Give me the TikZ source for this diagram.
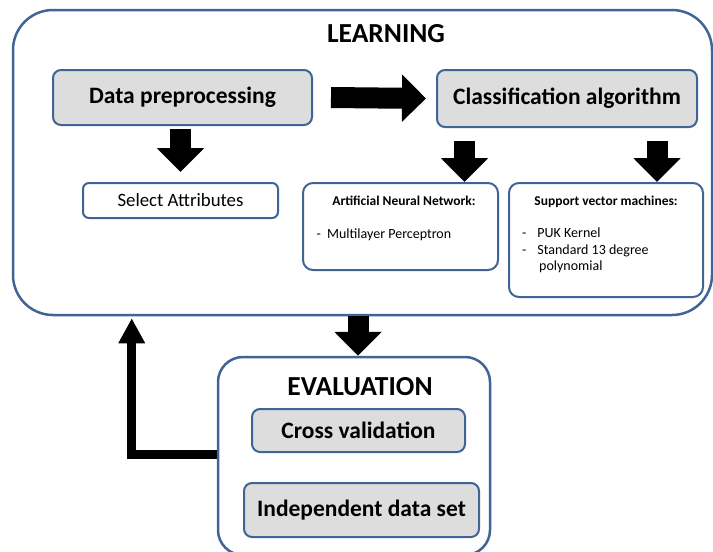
\documentclass[tikz,border=0pt]{standalone}
\usepackage{fontspec}
\setmainfont{Carlito}
\usetikzlibrary{arrows.meta,positioning}
\definecolor{frameblue}{RGB}{65,100,150}
\definecolor{boxgray}{RGB}{221,221,221}
\begin{document}
\begin{tikzpicture}[x=1pt,y=-1pt,
  bigbox/.style={draw=frameblue,line width=2.5pt,rounded corners=40pt,fill=white},
  graybox/.style={draw=frameblue,line width=2pt,rounded corners=8pt,fill=boxgray,font=\fontsize{23.5}{26}\selectfont\bfseries},
  whitebox/.style={draw=frameblue,line width=2pt,rounded corners=10pt,fill=white},
  blockarrow/.style={line width=21pt,-{Triangle[length=24pt,width=46pt]}},
  backarrow/.style={line width=9pt,-{Triangle[length=25pt,width=25pt]}}]
\clip (0,0) rectangle (713,552);
% learning part
\node[bigbox,minimum width=699pt,minimum height=305pt] (learn) at (362.5,162.5) {};
\node[font=\fontsize{27.5}{30}\selectfont\bfseries] (learntitle) at (386,34) {LEARNING};
\node[graybox,minimum width=259pt,minimum height=55pt] (pre) at (182.5,97.5) {Data preprocessing};
\node[graybox,minimum width=260pt,minimum height=57pt] (cls) at (567,98.5) {Classification algorithm};
\node[whitebox,rounded corners=6pt,minimum width=195pt,minimum height=35pt,
  font=\fontsize{18.8}{20}\selectfont] (sel) at (180.5,200.5) {Select Attributes};
\node[whitebox,minimum width=195pt,minimum height=87pt] (ann) at (400.5,226.5) {};
\node[whitebox,minimum width=194pt,minimum height=114pt] (svm) at (606,240) {};
\node[font=\fontsize{13.5}{15}\selectfont\bfseries] (anntitle) at (404,201) {Artificial Neural Network:};
\node[font=\fontsize{14}{16}\selectfont,anchor=west] (annlist) at (313,235) {-\ \ Multilayer Perceptron};
\node[font=\fontsize{13.5}{15}\selectfont\bfseries] (svmtitle) at (606,202) {Support vector machines:};
\node[font=\fontsize{14}{16.5}\selectfont,anchor=north west,align=left,inner sep=0pt] (svmlist) at (522,228)
  {-\hspace{11pt}PUK Kernel\\-\hspace{11pt}Standard 13 degree\\\hspace{17pt}polynomial};
\draw[blockarrow] ([xshift=18pt]pre.east) -- ([xshift=-10pt]cls.west);
\draw[blockarrow] ([yshift=-3pt]pre.south -| sel.north) -- ([yshift=10pt]sel.north);
\draw[blockarrow] ([xshift=64pt,yshift=41pt]ann.north) -- ([xshift=64pt]ann.north);
\draw[blockarrow] ([xshift=51pt,yshift=41pt]svm.north) -- ([xshift=51pt]svm.north);
% evaluation part
\node[bigbox,rounded corners=25pt,minimum width=272pt,minimum height=198pt] (eval) at (354,456) {};
\node[font=\fontsize{27.5}{30}\selectfont\bfseries] (evaltitle) at (360,387) {EVALUATION};
\node[graybox,minimum width=213pt,minimum height=43pt] (cross) at (358.5,430.5) {Cross validation};
\node[graybox,minimum width=235pt,minimum height=54pt] (indep) at (361.5,510) {Independent data set};
\draw[blockarrow] ([xshift=4pt]learn.south -| eval.north) -- ([xshift=4pt]eval.north);
\draw[backarrow] ([yshift=2pt]eval.west) -| ([xshift=120pt,yshift=-2pt]learn.south west);
\end{tikzpicture}
\end{document}
